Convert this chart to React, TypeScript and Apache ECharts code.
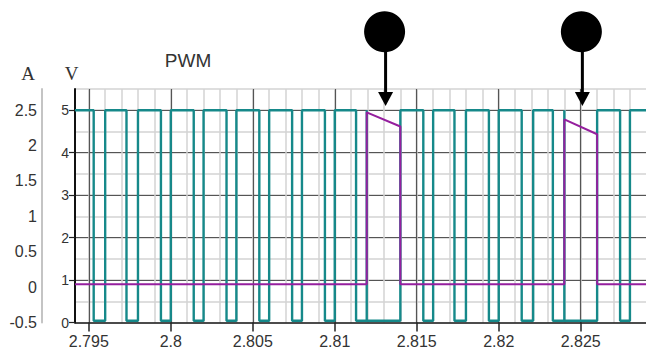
import React, { useEffect, useRef } from 'react';
import * as echarts from 'echarts';

// time axis range (s)
const X_MIN = 2.79416;
const X_MAX = 2.82898;

// PWM voltage (V): low intervals of the square wave
const pwmLowStarts = [2.7953, 2.7973, 2.7994, 2.8014, 2.8034, 2.8054, 2.8074, 2.8094, 2.8113, 2.8154, 2.8173, 2.8194, 2.8214, 2.8233, 2.8274];
const pwmLowEnds = [2.796, 2.798, 2.8, 2.802, 2.804, 2.806, 2.808, 2.81, 2.814, 2.816, 2.818, 2.82, 2.8221, 2.826, 2.828];
const pwmSpikes = [2.81195, 2.824];
const PWM_HIGH = 5;
const PWM_LOW = 0.04;

// current (A)
const currentTimes = [X_MIN, 2.81195, 2.81195, 2.814, 2.814, 2.824, 2.824, 2.826, 2.826, X_MAX];
const currentValues = [0.04, 0.04, 2.47, 2.27, 0.04, 0.04, 2.37, 2.16, 0.04, 0.04];

// annotation markers (time, arrow tip in V, circle centre in V)
const markerTimes = [2.8131, 2.8251];
const ARROW_TIP_V = 5.1;
const CIRCLE_V = 6.85;

const TEAL = '#16898a';
const PURPLE = '#951f9e';
const MAJOR = '#555555';
const MINOR = '#d3d3d3';
const FONT = '"Liberation Sans", Arial, sans-serif';

function buildPwm(): number[][] {
  const pts: number[][] = [[X_MIN, PWM_HIGH]];
  pwmLowStarts.forEach((s, i) => {
    const e = pwmLowEnds[i];
    pts.push([s, PWM_HIGH], [s, PWM_LOW]);
    pwmSpikes.filter((sp) => sp > s && sp < e).forEach((sp) => {
      pts.push([sp, PWM_LOW], [sp, PWM_HIGH], [sp, PWM_LOW]);
    });
    pts.push([e, PWM_LOW], [e, PWM_HIGH]);
  });
  pts.push([X_MAX, PWM_HIGH]);
  return pts;
}

export default function App() {
  const ref = useRef<HTMLDivElement>(null);
  useEffect(() => {
    if (!ref.current) return;
    const chart = echarts.init(ref.current, undefined, { renderer: 'svg' });
    const isMajor = (v: number) => Math.abs(v / 0.005 - Math.round(v / 0.005)) < 1e-6;
    chart.setOption({
      animation: false,
      grid: { left: 75, top: 89, right: 0, bottom: 28.5, containLabel: false },
      xAxis: [
        {
          type: 'value', position: 'bottom', min: X_MIN, max: X_MAX, splitNumber: 35,
          axisLine: { show: false }, axisTick: { show: false }, axisLabel: { show: false },
          splitLine: { show: true, showMinLine: false, showMaxLine: false, lineStyle: { color: MINOR, width: 1.5 } },
        },
        {
          type: 'value', position: 'bottom', min: X_MIN, max: X_MAX, splitNumber: 7,
          axisLine: { show: true, onZero: false, lineStyle: { color: '#111', width: 1.5 } },
          axisTick: { show: true, length: 9, lineStyle: { color: '#222', width: 1.5 } },
          axisLabel: {
            show: true, showMinLabel: false, showMaxLabel: false, margin: 11,
            color: '#333', fontSize: 16, fontFamily: FONT,
            formatter: (v: number) => (isMajor(v) ? String(+v.toFixed(3)) : ''),
          },
          splitLine: { show: true, showMinLine: false, showMaxLine: false, lineStyle: { color: MAJOR, width: 1.2 } },
        },
      ],
      yAxis: [
        {
          type: 'value', position: 'left', min: 0, max: 5.5, interval: 0.5,
          axisLine: { show: false }, axisTick: { show: false }, axisLabel: { show: false },
          splitLine: { show: true, showMinLine: false, lineStyle: { color: MINOR, width: 1.5 } },
        },
        {
          type: 'value', min: 0, max: 5.5, interval: 1, position: 'left',
          axisLine: { show: true, onZero: false, lineStyle: { color: '#111', width: 2 } },
          axisTick: { show: true, length: 6, lineStyle: { color: '#222', width: 1.2 } },
          axisLabel: { show: true, showMaxLabel: false, margin: 6, color: '#333', fontSize: 14, fontFamily: FONT },
          splitLine: { show: true, showMinLine: false, showMaxLine: false, lineStyle: { color: MAJOR, width: 1.2 } },
        },
        {
          type: 'value', min: -0.5, max: 2.8, interval: 0.5, position: 'left', offset: 33,
          axisLine: { show: true, onZero: false, lineStyle: { color: '#c4c4c4', width: 2 } },
          axisTick: { show: false },
          axisLabel: { show: true, showMaxLabel: false, margin: 5, color: '#333', fontSize: 16, fontFamily: FONT },
          splitLine: { show: false },
        },
      ],
      series: [
        {
          name: 'PWM', type: 'line', xAxisIndex: 1, yAxisIndex: 1, data: buildPwm(),
          showSymbol: false, symbol: 'none', lineStyle: { color: TEAL, width: 2.4 }, z: 3,
        },
        {
          name: 'Current', type: 'line', xAxisIndex: 1, yAxisIndex: 2,
          data: currentTimes.map((t, i) => [t, currentValues[i]]),
          showSymbol: false, symbol: 'none', lineStyle: { color: PURPLE, width: 2 }, z: 4,
        },
      ],
    });

    const graphics: any[] = [
      { type: 'text', x: 28, y: 73, style: { text: 'A', font: '19px "Liberation Serif", serif', fill: '#333', align: 'center', verticalAlign: 'middle' } },
      { type: 'text', x: 71.5, y: 73, style: { text: 'V', font: '19px "Liberation Serif", serif', fill: '#333', align: 'center', verticalAlign: 'middle' } },
      { type: 'text', x: 188, y: 60, style: { text: 'PWM', font: `19px ${FONT}`, fill: '#333', align: 'center', verticalAlign: 'middle' } },
    ];
    markerTimes.forEach((t) => {
      const x = chart.convertToPixel({ xAxisIndex: 1 }, t) as number;
      const tipY = chart.convertToPixel({ yAxisIndex: 1 }, ARROW_TIP_V) as number;
      const cy = chart.convertToPixel({ yAxisIndex: 1 }, CIRCLE_V) as number;
      graphics.push(
        { type: 'line', z: 100, shape: { x1: x, y1: cy, x2: x, y2: tipY - 10 }, style: { stroke: '#000', lineWidth: 3 } },
        { type: 'polygon', z: 100, shape: { points: [[x - 7.5, tipY - 14], [x + 7.5, tipY - 14], [x, tipY]] }, style: { fill: '#000' } },
        { type: 'circle', z: 100, shape: { cx: x - 1, cy, r: 20.5 }, style: { fill: '#000' } },
      );
    });
    chart.setOption({ graphic: graphics });

    return () => chart.dispose();
  }, []);
  return <div ref={ref} style={{ position: 'fixed', left: 0, top: 0, width: 646, height: 351, background: '#fff' }} />;
}
